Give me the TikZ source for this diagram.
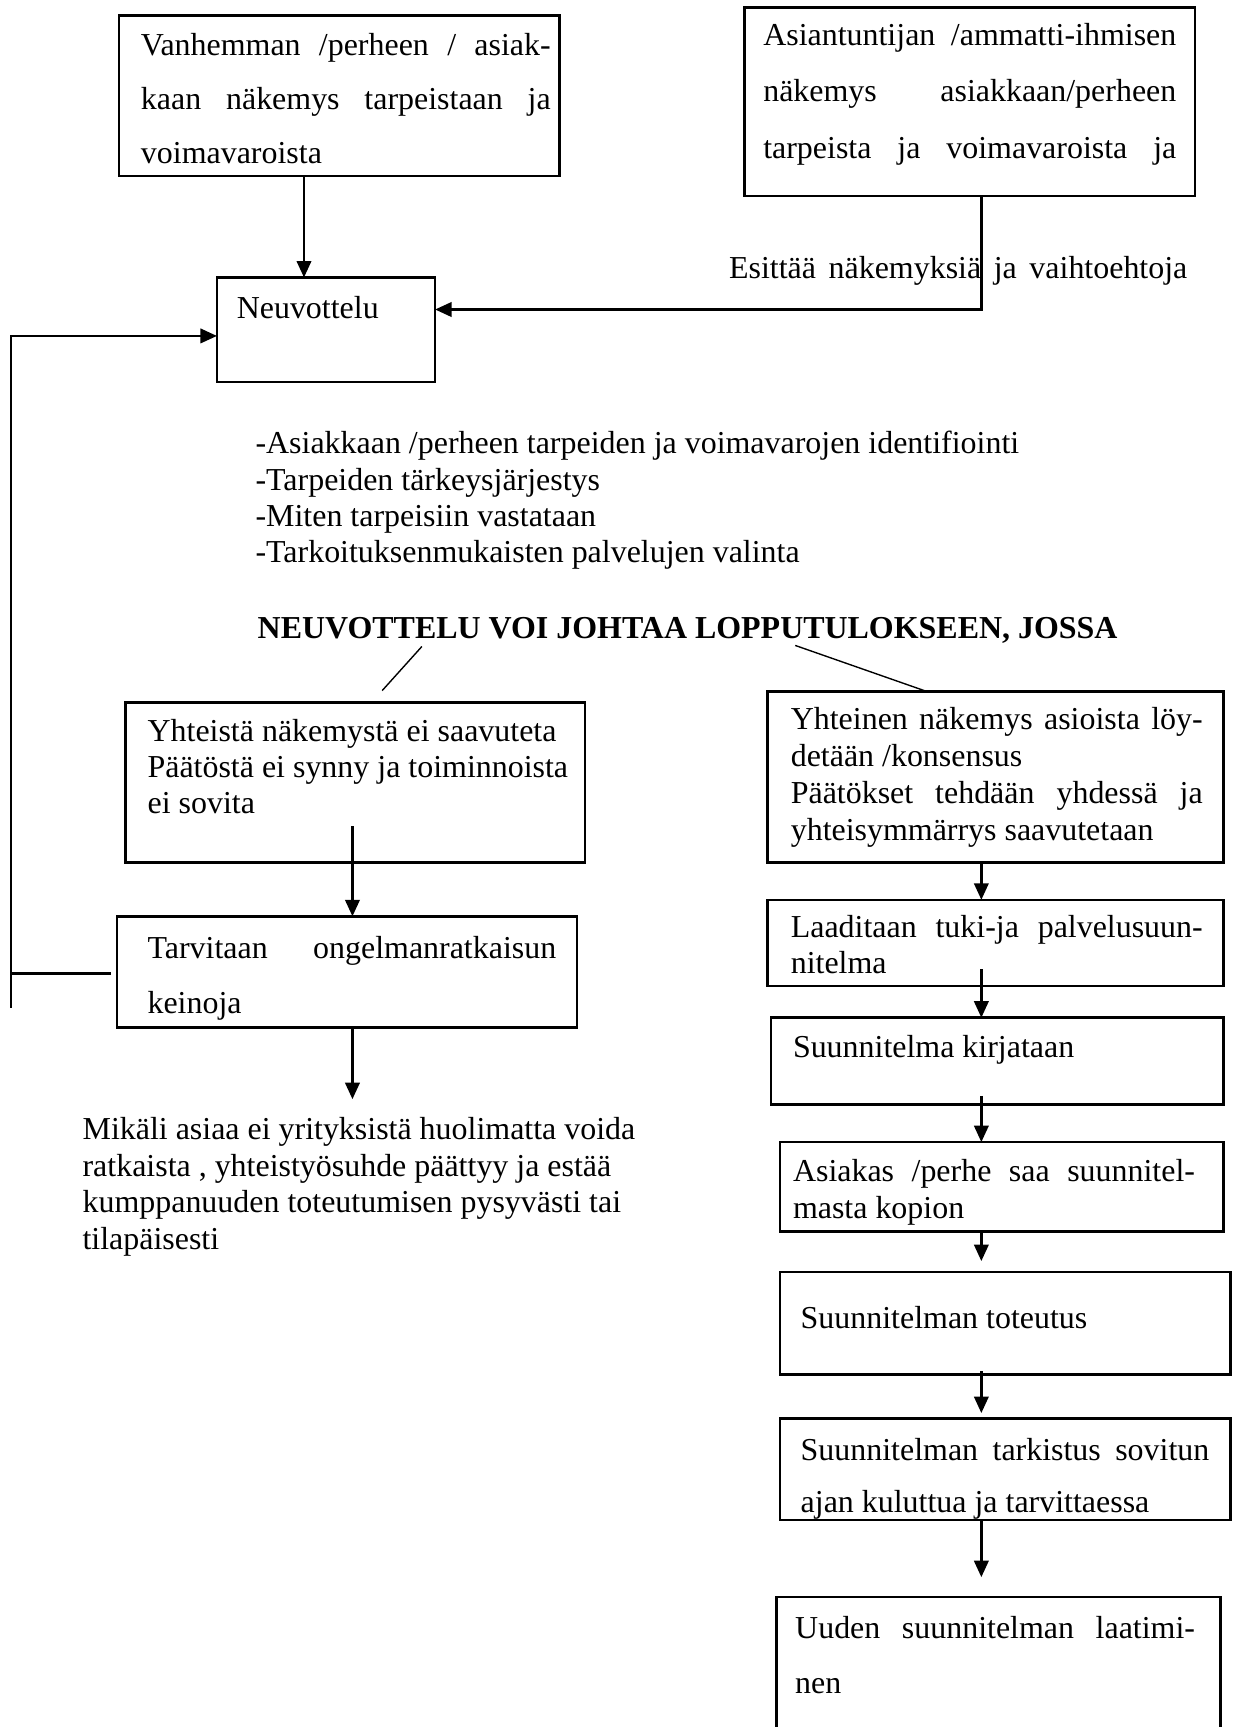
\documentclass[tikz,border=0pt]{standalone}
\usepackage{fontspec}
\setmainfont{Liberation Serif}
\usetikzlibrary{arrows.meta}
\newcommand\jl[2]{\makebox[#1][s]{#2}}
\newcommand\mkbox[5]{\node[box, minimum width=#4*0.4pt, minimum height=#5*0.4pt] (#1) at (#2,#3) {};}
\begin{document}
\begin{tikzpicture}[x=0.4pt,y=-0.4pt,
  box/.style={draw, line width=0.9pt, inner sep=0pt, outer sep=0pt, anchor=north west},
  txt/.style={inner sep=0pt, outer sep=0pt, anchor=base west, font=\fontsize{11.6}{13.2}\selectfont},
  arr/.style={line width=1pt, -{Triangle[length=6pt,width=5.2pt]}},
  ln/.style={line width=0.9pt},
  thinln/.style={line width=0.5pt}]
\useasboundingbox (0,0) rectangle (1122,1568);
\clip (0,0) rectangle (1122,1568);
% boxes
\mkbox{b1}{108}{14}{400}{146}
\mkbox{b2}{676}{7}{409}{171}
\mkbox{neuv}{197}{252}{198}{95}
\mkbox{bA}{114}{638}{417}{145}
\mkbox{bB}{106}{832}{418}{101}
\mkbox{bC}{697}{628}{414}{155}
\mkbox{bD}{697}{817}{414}{78}
\mkbox{bE}{700}{924}{411}{79}
\mkbox{bF}{708}{1037}{403}{81}
\mkbox{bG}{708}{1155}{409}{93}
\mkbox{bH}{708}{1288}{409}{92}
\mkbox{bI}{705}{1450}{403}{140}
% texts
\node[txt, font=\fontsize{11.6}{19.6}\selectfont] (t1) at (128,50) {\parbox[t]{148.8pt}{\jl{\linewidth}{Vanhemman /perheen / asiak-}\\\jl{\linewidth}{kaan näkemys tarpeistaan ja}\\voimavaroista}};
\node[txt, font=\fontsize{11.6}{20.6}\selectfont] (t2) at (693,41) {\parbox[t]{150pt}{\jl{\linewidth}{Asiantuntijan /ammatti-ihmisen}\\\jl{\linewidth}{näkemys asiakkaan/perheen}\\\jl{\linewidth}{tarpeista ja voimavaroista ja}}};
\node[txt] (esit) at (662,253) {\jl{166.4pt}{Esittää näkemyksiä ja vaihtoehtoja}};
\node[txt] (tn) at (215,289) {Neuvottelu};
\node[txt] (list) at (232,412) {\parbox[t]{320pt}{-Asiakkaan /perheen tarpeiden ja voimavarojen identifiointi\\-Tarpeiden tärkeysjärjestys\\-Miten tarpeisiin vastataan\\-Tarkoituksenmukaisten palvelujen valinta}};
\node[txt, font=\bfseries\fontsize{11.6}{13.2}\selectfont] (head) at (234,580) {NEUVOTTELU VOI JOHTAA LOPPUTULOKSEEN, JOSSA};
\node[txt] (tA) at (134,673) {\parbox[t]{170pt}{Yhteistä näkemystä ei saavuteta\\Päätöstä ei synny ja toiminnoista\\ei sovita}};
\node[txt, font=\fontsize{11.6}{20}\selectfont] (tB) at (134,870) {\parbox[t]{148.4pt}{\jl{\linewidth}{Tarvitaan ongelmanratkaisun}\\keinoja}};
\node[txt] (para) at (75,1035) {\parbox[t]{230pt}{Mikäli asiaa ei yrityksistä huolimatta voida\\ratkaista , yhteistyösuhde päättyy ja estää\\kumppanuuden toteutumisen pysyvästi tai\\tilapäisesti}};
\node[txt, font=\fontsize{11.6}{13.5}\selectfont] (tC) at (718,662) {\parbox[t]{149.6pt}{\jl{\linewidth}{Yhteinen näkemys asioista löy-}\\detään /konsensus\\\jl{\linewidth}{Päätökset tehdään yhdessä ja}\\yhteisymmärrys saavutetaan}};
\node[txt] (tD) at (718,851) {\parbox[t]{149.6pt}{\jl{\linewidth}{Laaditaan tuki-ja palvelusuun-}\\nitelma}};
\node[txt] (tE) at (720,960) {Suunnitelma kirjataan};
\node[txt] (tF) at (720,1073) {\parbox[t]{146pt}{\jl{\linewidth}{Asiakas /perhe saa suunnitel-}\\masta kopion}};
\node[txt] (tG) at (727,1206) {Suunnitelman toteutus};
\node[txt, font=\fontsize{11.6}{18.8}\selectfont] (tH) at (727,1326) {\parbox[t]{148.4pt}{\jl{\linewidth}{Suunnitelman tarkistus sovitun}\\ajan kuluttua ja tarvittaessa}};
\node[txt, font=\fontsize{11.6}{20}\selectfont] (tI) at (722,1488) {\parbox[t]{145.2pt}{\jl{\linewidth}{Uuden suunnitelman laatimi-}\\nen}};
% coordinates
\coordinate (x1) at (276,0);
\coordinate (kR) at (891,281);
\coordinate (lt) at (10,305);
\coordinate (lm) at (10,884);
\coordinate (lb) at (10,915);
\coordinate (lmE) at (101,884);
\coordinate (aS) at (320,750);
\coordinate (pT) at (320,998);
\coordinate (xc) at (891,0);
\coordinate (dS) at (891,880);
\coordinate (eS) at (891,995);
\coordinate (gT) at (891,1145);
\coordinate (gS) at (891,1245);
\coordinate (hT) at (891,1283);
\coordinate (iT) at (891,1432);
\coordinate (dl1) at (383,587);
\coordinate (dl2) at (347,627);
\coordinate (dr1) at (722,586);
\coordinate (dr2) at (842,628);
% connectors
\draw[arr] (b1.south -| x1) -- (neuv.north -| x1);
\draw[arr] (b2.south -| kR) -- (kR) -- (neuv.east |- kR);
\draw[arr] (lb) -- (lt) -- (neuv.west |- lt);
\draw[ln] (lm) -- (lmE);
\draw[thinln] (dl1) -- (dl2);
\draw[thinln] (dr1) -- (dr2);
\draw[arr] (aS) -- (bB.north -| aS);
\draw[arr] (bB.south -| aS) -- (pT);
\draw[arr] (bC.south -| xc) -- (bD.north -| xc);
\draw[arr] (dS) -- (bE.north -| xc);
\draw[arr] (eS) -- (bF.north -| xc);
\draw[arr] (bF.south -| xc) -- (gT);
\draw[arr] (gS) -- (hT);
\draw[arr] (bH.south -| xc) -- (iT);
\end{tikzpicture}
\end{document}
